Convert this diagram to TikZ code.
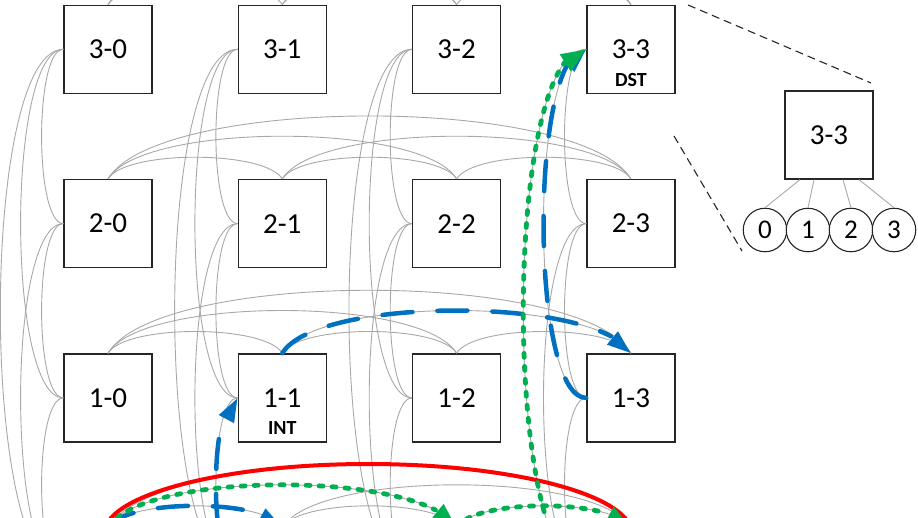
\documentclass[tikz,border=0pt]{standalone}
\usepackage{fontspec}
\setmainfont{Carlito}
\usetikzlibrary{arrows.meta,bending}
\definecolor{glin}{RGB}{168,168,168}
\definecolor{pblue}{RGB}{0,112,192}
\definecolor{pgreen}{RGB}{0,176,80}
\definecolor{pred}{RGB}{255,0,0}
\tikzset{
  box/.style={draw=black!85, line width=1.3pt, fill=white, minimum size=88pt, inner sep=0pt,
              font=\fontsize{29}{31}\selectfont},
  sublabel/.style={inner sep=0pt, font=\bfseries\fontsize{20}{22}\selectfont},
  port/.style={circle, draw=black!85, line width=1.1pt, fill=white, minimum size=43.5pt, inner sep=0pt,
               font=\fontsize{27}{29}\selectfont},
  gline/.style={draw=glin, line width=0.9pt},
  zoomline/.style={draw=black!85, line width=1.1pt, dash pattern=on 8pt off 5pt},
  bluepath/.style={draw=pblue, line width=4.5pt, line cap=round, dash pattern=on 30pt off 25pt,
                   -{Triangle[length=24pt,width=16pt]}},
  greenpath/.style={draw=pgreen, line width=4.8pt, line cap=round, dash pattern=on 4pt off 9pt,
                    -{Triangle[length=25pt,width=19pt]}},
  redline/.style={draw=pred, line width=4pt},
}
\begin{document}
\begin{tikzpicture}[x=1pt,y=-1pt]
\useasboundingbox (0,0) rectangle (918,517);
\clip (0,0) rectangle (918,517);
% grid nodes (row 0 lies below the visible area: its labels are not shown)
\foreach \r in {0,...,3}{
  \foreach \c in {0,...,3}{
    \pgfmathsetmacro\X{108+174.3*\c}
    \pgfmathsetmacro\Y{49.3+174.3*(3-\r)}
    \ifnum\r=0
      \node[box] (n\r\c) at (\X,\Y) {};
    \else
      \node[box] (n\r\c) at (\X,\Y) {\r-\c};
    \fi
  }
}
% row links (arcs above the boxes)
\foreach \r in {0,...,3}{
  \foreach \i/\j/\h in {0/1/29,1/2/29,2/3/29,0/2/57,1/3/57,0/3/84}{
    \draw[gline] (n\r\i.north) .. controls +(0.6*\h,-\h) and +(-0.6*\h,-\h) .. (n\r\j.north);
  }
}
% column links (arcs left of the boxes)
\foreach \c in {0,...,3}{
  \foreach \i/\j/\a in {1/0/29,2/1/29,3/2/29,2/0/57,3/1/57,3/0/84}{
    \draw[gline] (n\i\c.west) .. controls +(-\a,0) and +(-\a,0) .. (n\j\c.west);
  }
}
% sub labels
\node[sublabel] (int) at ([yshift=-30pt]n11.center) {INT};
\node[sublabel] (dst) at ([yshift=-31pt]n33.center) {DST};
% red group ellipse
\draw[redline] (368,534) ellipse [x radius=264pt, y radius=70pt];
% blue path
\draw[bluepath] (n00.north) .. controls +(17.4,-29) and +(-17.4,-29) .. (n01.north);
\draw[bluepath] (n01.west) .. controls +(-29,0) and +(-29,0) .. (n11.west);
\draw[bluepath] (n11.north) .. controls +(34.2,-57) and +(-34.2,-57) .. (n13.north);
\draw[bluepath] (n13.west) .. controls +(-57,0) and +(-57,0) .. (n33.west);
% green path
\draw[greenpath] (n00.north) .. controls +(34.2,-57) and +(-34.2,-57) .. (n02.north);
\draw[greenpath] (n02.north) .. controls +(17.4,-29) and +(-17.4,-29) .. (n03.north);
\draw[greenpath] (n03.west) .. controls +(-84,0) and +(-84,0) .. (n33.west);
% zoomed router
\node[box] (z33) at (829,135) {3-3};
\foreach \k/\px in {0/765,1/808,2/851,3/894}{
  \node[port] (p\k) at (\px,230) {\k};
}
\draw[gline] ([xshift=-29pt]z33.south) -- (p0.north);
\draw[gline] ([xshift=-15pt]z33.south) -- (p1.north);
\draw[gline] ([xshift=14pt]z33.south) -- (p2.north);
\draw[gline] ([xshift=30pt]z33.south) -- (p3.north);
\coordinate (za) at (688,5);
\coordinate (zb) at (871,83);
\coordinate (zc) at (674,136);
\coordinate (zd) at (742,251);
\draw[zoomline] (za) -- (zb);
\draw[zoomline] (zc) -- (zd);
\end{tikzpicture}
\end{document}
